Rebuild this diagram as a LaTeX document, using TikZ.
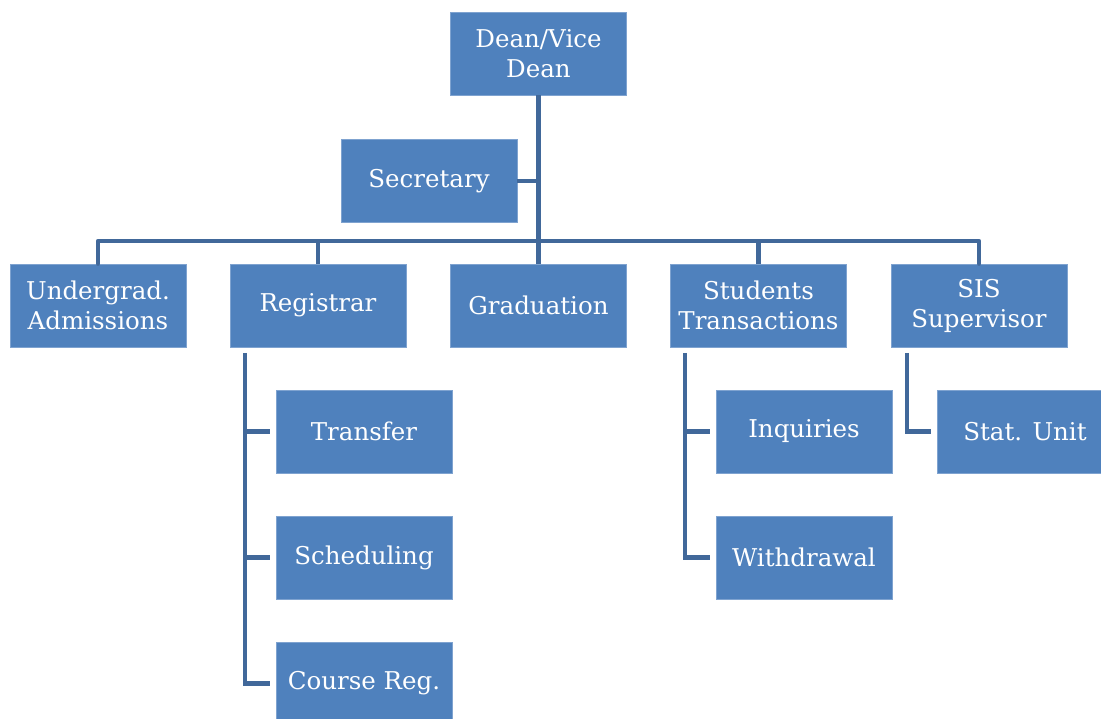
\documentclass[tikz,border=0pt]{standalone}
\usepackage{fontspec}
\setmainfont{DejaVu Serif}
\begin{document}
\begin{tikzpicture}[x=1pt,y=-1pt,
  unit/.style={draw=boxedge,line width=0.8pt,fill=boxfill,text=white,
    minimum width=176pt,minimum height=83pt,inner sep=0pt,align=center,
    font=\fontsize{24.5}{30}\selectfont},
  link/.style={draw=linkblue,line width=4.5pt}]
\definecolor{boxfill}{HTML}{4F81BD}
\definecolor{boxedge}{HTML}{7FA3D0}
\definecolor{linkblue}{HTML}{41689A}
\useasboundingbox (0,0) rectangle (1101,719);
\clip (0,0) rectangle (1101,719);
% top level
\node[unit] (dean) at (538.5,53.5) {Dean/Vice\\Dean};
\node[unit] (sec) at (429,181) {Secretary};
% second level
\node[unit] (ug) at (98,305.5) {Undergrad.\\Admissions};
\node[unit] (reg) at (318,305.5) {Registrar};
\node[unit] (grad) at (538.5,305.5) {Graduation};
\node[unit] (stu) at (758.5,305.5) {Students\\Transactions};
\node[unit] (sis) at (979,305.5) {SIS\\Supervisor};
% third level
\node[unit] (tr) at (364,431.5) {Transfer};
\node[unit] (sch) at (364,557.5) {Scheduling};
\node[unit] (cr) at (364,683.5) {Course Reg.};
\node[unit] (inq) at (804,431.5) {Inquiries};
\node[unit] (wd) at (804,557.5) {Withdrawal};
\node[unit] (stat) at (1025,431.5) {Stat. Unit};
% bus coordinates
\coordinate (bus) at (538.5,241);
\coordinate (secj) at (538.5,181);
% dean down to the bus, secretary branch
\draw[link] (dean.south) -- (bus);
\draw[link] (sec.east) -- (secj);
% horizontal bus and drops
\draw[link,line cap=round,line join=round] (ug.north) -- (ug.north |- bus) -- (sis.north |- bus) -- (sis.north);
\draw[link] (reg.north |- bus) -- (reg.north);
\draw[link] (grad.north |- bus) -- (grad.north);
\draw[link] (stu.north |- bus) -- (stu.north);
% registrar subtree
\coordinate (rx) at (245,353);
\draw[link] (rx) -- (rx |- cr.west) -- ([xshift=-6pt]cr.west);
\draw[link] (rx |- tr.west) -- ([xshift=-6pt]tr.west);
\draw[link] (rx |- sch.west) -- ([xshift=-6pt]sch.west);
% students subtree
\coordinate (sx) at (685,353);
\draw[link] (sx) -- (sx |- wd.west) -- ([xshift=-6pt]wd.west);
\draw[link] (sx |- inq.west) -- ([xshift=-6pt]inq.west);
% SIS subtree
\coordinate (px) at (907,353);
\draw[link] (px) -- (px |- stat.west) -- ([xshift=-6pt]stat.west);
\end{tikzpicture}
\end{document}
